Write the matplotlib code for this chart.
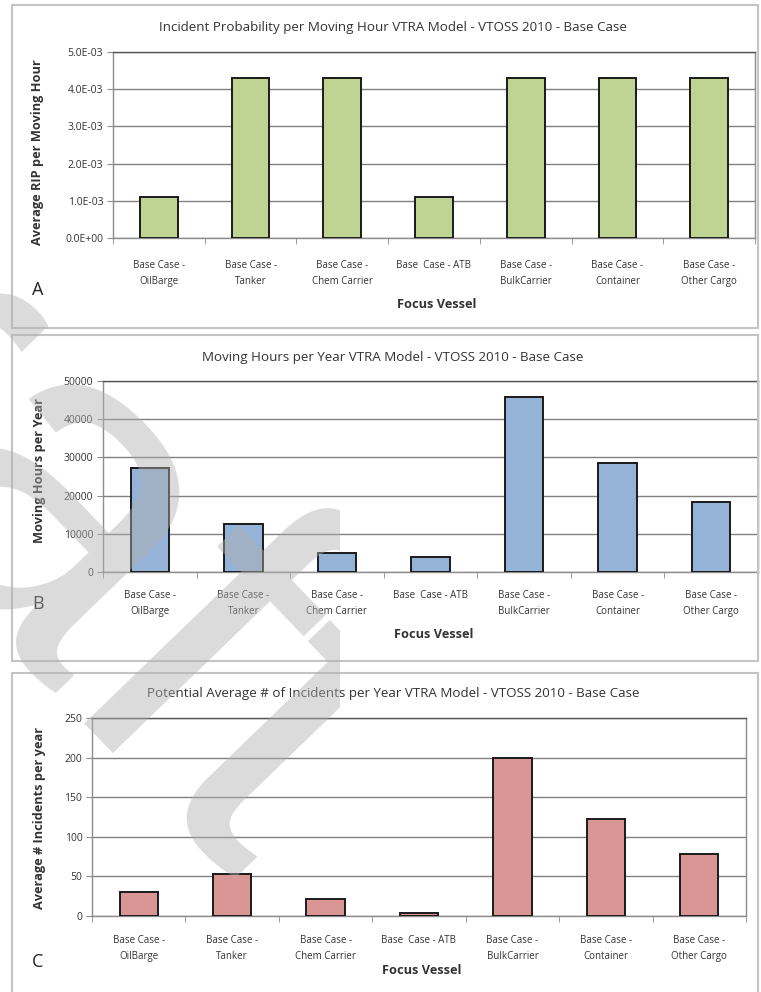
import numpy as np
import matplotlib
matplotlib.use('Agg')
import matplotlib.pyplot as plt
from matplotlib.patches import Rectangle
from matplotlib.ticker import FuncFormatter, FixedLocator
from matplotlib.transforms import Bbox, TransformedBbox

# Focus vessel categories (shared by all three panels)
categories = ['Base Case -\nOilBarge', 'Base Case -\nTanker', 'Base Case -\nChem Carrier',
              'Base  Case - ATB', 'Base Case -\nBulkCarrier', 'Base Case -\nContainer',
              'Base Case -\nOther Cargo']

# Panel A: average RIP per moving hour
rip_per_hour = [1.1e-3, 4.3e-3, 4.3e-3, 1.1e-3, 4.3e-3, 4.3e-3, 4.3e-3]
# Panel B: moving hours per year
moving_hours = [27300, 12600, 5000, 3900, 45800, 28500, 18200]
# Panel C: average number of incidents per year
incidents = [30, 53, 21, 4, 199, 122, 78]

titles = ['Incident Probability per Moving Hour VTRA Model - VTOSS 2010 - Base Case',
          'Moving Hours per Year VTRA Model - VTOSS 2010 - Base Case',
          'Potential Average # of Incidents per Year VTRA Model - VTOSS 2010 - Base Case']
ylabels = ['Average RIP per Moving Hour', 'Moving Hours per Year',
           'Average # Incidents per year']
panel_tags = ['A', 'B', 'C']

W, H = 761, 992
fig = plt.figure(figsize=(W / 100, H / 100), dpi=100)
plt.rcParams['font.family'] = ['Open Sans', 'DejaVu Sans']


def fx(x):
    return x / W


def fy(y):
    return 1 - y / H


# pixel layout of each panel: frame box, plot area, text rows
layout = [
    dict(box=(12, 5, 758, 328), ax=(113, 52, 755, 238), title=27, ylab=(38, 152),
         tick_pad=16, xlab=305, tag=(38, 290)),
    dict(box=(12, 335, 758, 661), ax=(103, 381, 758, 572), title=357, ylab=(40, 470),
         tick_pad=13, xlab=634, tag=(38, 604)),
    dict(box=(12, 673, 758, 1000), ax=(92, 718, 746, 916), title=694, ylab=(40, 818),
         tick_pad=14, xlab=971, tag=(38, 962)),
]

series = [rip_per_hour, moving_hours, incidents]
colors = ['#bfd492', '#95b3d7', '#d99694']
ylims = [(0, 5e-3), (0, 50000), (0, 250)]
ysteps = [1e-3, 10000, 50]
fmts = [lambda v, p: '{:.1E}'.format(v), lambda v, p: '{:.0f}'.format(v),
        lambda v, p: '{:.0f}'.format(v)]

x = np.arange(len(categories))
txt = '#333333'

for i in range(3):
    L = layout[i]
    bx0, by0, bx1, by1 = L['box']
    fig.patches.append(Rectangle((fx(bx0), fy(by1)), fx(bx1 - bx0), (by1 - by0) / H,
                                 transform=fig.transFigure, fill=False,
                                 edgecolor='#c4c4c4', linewidth=1.5))
    ax0, ay0, ax1, ay1 = L['ax']
    ax = fig.add_axes([fx(ax0), fy(ay1), fx(ax1 - ax0), (ay1 - ay0) / H])
    ax.bar(x, series[i], width=0.41, color=colors[i], edgecolor='#1a1a1a',
           linewidth=1.4, zorder=3)
    ax.set_xlim(-0.5, len(categories) - 0.5)
    ax.set_ylim(*ylims[i])
    ax.set_yticks(np.arange(0, ylims[i][1] + ysteps[i] / 2, ysteps[i]))
    ax.yaxis.set_major_formatter(FuncFormatter(fmts[i]))
    ax.yaxis.grid(True, color='#808080', linewidth=1.0)
    ax.set_axisbelow(True)
    for s in ax.spines.values():
        s.set_color('#8c8c8c')
        s.set_linewidth(1.0)
    ax.spines['top'].set_color('#555555')
    ax.set_xticks(x)
    ax.set_xticklabels(categories, fontsize=7.0, color=txt, linespacing=1.6,
                       va='top')
    ax.tick_params(axis='x', length=0, pad=L['tick_pad'])
    ax.xaxis.set_minor_locator(FixedLocator(np.arange(-0.5, len(categories), 1.0)))
    ax.tick_params(axis='x', which='minor', length=4, color='#8c8c8c', direction='out')
    ax.tick_params(axis='y', length=4, color='#8c8c8c', labelsize=7.5,
                   labelcolor=txt, pad=3)

    fig.text(fx(393), fy(L['title']), titles[i], fontsize=9.6,
             ha='center', va='center', color=txt)
    fig.text(fx(L['ylab'][0]), fy(L['ylab'][1]), ylabels[i], fontsize=9.2,
             fontweight='bold', rotation=90, ha='center', va='center', color=txt)
    fig.text(fx((ax0 + ax1) / 2 + 3), fy(L['xlab']), 'Focus Vessel', fontsize=9.2,
             fontweight='bold', ha='center', va='center', color=txt)
    fig.text(fx(L['tag'][0]), fy(L['tag'][1]), panel_tags[i], fontsize=13,
             ha='center', va='center', color='#222222')

# diagonal watermark, only its left part shows on the page
em = 470.0
ang = np.deg2rad(46)
u = np.array([np.cos(ang), np.sin(ang)])
origin = np.array([76.0, 755.0]) - 1.711 * em * u
mark = fig.text(fx(origin[0]), fy(origin[1]), 'Draft', fontsize=em / 1.389,
                family='Liberation Sans', rotation=-46, rotation_mode='anchor',
                ha='left', va='baseline', color='#b0b0b0', alpha=0.45, zorder=10)
mark.set_clip_box(TransformedBbox(Bbox([[0, 0], [fx(340), 1]]), fig.transFigure))

fig.savefig('out.png', dpi=100)
